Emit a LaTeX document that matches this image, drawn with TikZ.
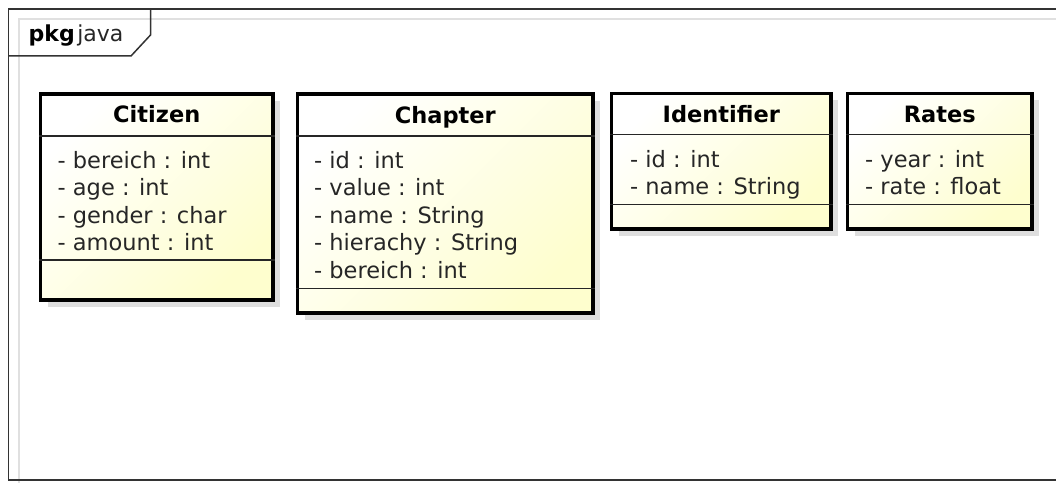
\documentclass[tikz,border=0pt]{standalone}
\usepackage{fontspec}
\setmainfont{DejaVu Sans}
\usepackage{xcolor}
\usetikzlibrary{shadows}
\definecolor{umlfill}{HTML}{FEFECE}

\begin{document}
\begin{tikzpicture}[x=1pt,y=-1pt,%
  classbox/.style={draw=black,line width=3.5pt,anchor=north west,inner sep=0pt,
    top color=white,bottom color=umlfill,shading angle=45,
    drop shadow={shadow xshift=7pt,shadow yshift=-7pt,fill=black!13,opacity=1}},
  cname/.style={anchor=base,inner sep=0pt,font=\fontsize{22.5}{27}\selectfont\bfseries},
  attr/.style={anchor=base west,inner sep=0pt,text=black!85,font=\fontsize{22.5}{27}\selectfont},
  sep/.style={draw=black!85,line width=1.5pt},
  frame/.style={draw=black!80,line width=1.5pt},
  framelight/.style={draw=black!12,line width=1.5pt}
]
\useasboundingbox (0,0) rectangle (1056,484);

% package frame
\draw[framelight] (19,483) -- (19,19) -- (1056,19);
\draw[frame] (1060,9) -- (8.5,9) -- (8.5,480) -- (1060,480);
\draw[frame] (150.5,9) -- (150.5,35) -- (131,56) -- (8.5,56);
\node[anchor=base west,inner sep=0pt,font=\fontsize{22}{26}\selectfont] (pkglabel) at (28.5,42) {\textbf{pkg}\hspace{2.5pt}{\color{black!85}java}};

% classes
\node [classbox,minimum width=232.5pt,minimum height=206pt] (citizen) at (38.75,92.25) {};
\node [classbox,minimum width=295.5pt,minimum height=219pt] (chapter) at (295.75,92.25) {};
\node [classbox,minimum width=219.5pt,minimum height=135.5pt] (identifier) at (609.75,91.75) {};
\node [classbox,minimum width=184.5pt,minimum height=135.5pt] (rates) at (845.75,91.75) {};

\draw[sep] (citizen.west |- 0,136) -- (citizen.east |- 0,136);
\draw[sep] (citizen.west |- 0,260) -- (citizen.east |- 0,260);
\draw[sep] (chapter.west |- 0,136) -- (chapter.east |- 0,136);
\draw[sep] (chapter.west |- 0,288.5) -- (chapter.east |- 0,288.5);
\draw[sep] (identifier.west |- 0,134.5) -- (identifier.east |- 0,134.5);
\draw[sep] (identifier.west |- 0,204.5) -- (identifier.east |- 0,204.5);
\draw[sep] (rates.west |- 0,134.5) -- (rates.east |- 0,134.5);
\draw[sep] (rates.west |- 0,204.5) -- (rates.east |- 0,204.5);

\node [cname] (citizenname) at (citizen.north |- 0,122.5) {Citizen};
\node [cname] (chaptername) at (chapter.north |- 0,123) {Chapter};
\node [cname] (identifiername) at (identifier.north |- 0,122.5) {Identifier};
\node [cname] (ratesname) at (rates.north |- 0,122.5) {Rates};

\node [attr] (citizen1) at (57.5,168) {- bereich : int};
\node [attr] (citizen2) at (57.5,195.5) {- age : int};
\node [attr] (citizen3) at (57.5,223) {- gender : char};
\node [attr] (citizen4) at (57.5,250.5) {- amount : int};

\node [attr] (chapter1) at (314,168) {- id : int};
\node [attr] (chapter2) at (314,195.5) {- value : int};
\node [attr] (chapter3) at (314,223) {- name : String};
\node [attr] (chapter4) at (314,250.5) {- hierachy : String};
\node [attr] (chapter5) at (314,278) {- bereich : int};

\node [attr] (identifier1) at (630,167) {- id : int};
\node [attr] (identifier2) at (630,194.5) {- name : String};

\node [attr] (rates1) at (865,167) {- year : int};
\node [attr] (rates2) at (865,194.5) {- rate : float};
\end{tikzpicture}
\end{document}
